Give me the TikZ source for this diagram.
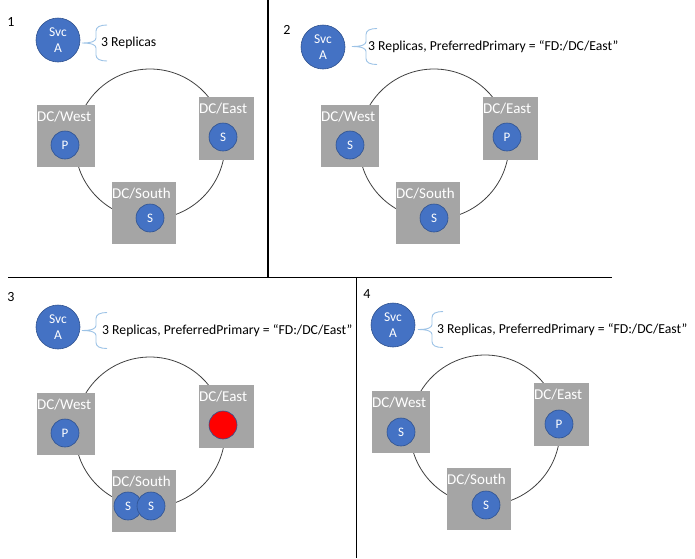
\documentclass[tikz,border=0pt]{standalone}
\usepackage{fontspec}
\setmainfont{Carlito}
\definecolor{blu}{HTML}{4472C4}
\definecolor{bluedge}{HTML}{2F528F}
\definecolor{boxgray}{HTML}{A5A5A5}
\definecolor{bracec}{HTML}{9DC3E6}
\definecolor{ringc}{HTML}{404040}
\begin{document}
\begin{tikzpicture}[x=1pt,y=-1pt]
\tikzset{
 svc/.style={circle, fill=blu, draw=bluedge, line width=0.6pt, minimum size=44pt, inner sep=0pt, text=white, font=\fontsize{13.5}{16}\selectfont, align=center},
 rep/.style={circle, fill=blu, draw=bluedge, line width=0.6pt, minimum size=28pt, inner sep=0pt, text=white, font=\fontsize{13}{14}\selectfont},
 failed/.style={rep, fill=red},
 dcbox/.style={fill=boxgray, minimum height=62pt, inner sep=0pt, anchor=north west},
 dclab/.style={text=white, font=\fontsize{15}{17}\selectfont, inner sep=0pt, anchor=base west},
 ring/.style={circle, draw=ringc, line width=0.8pt, minimum size=150pt, inner sep=0pt},
 num/.style={font=\fontsize{14}{15}\selectfont, inner sep=0pt},
 lab/.style={font=\fontsize{13.7}{16}\selectfont, inner sep=0pt, anchor=west},
 sepline/.style={draw=black, line width=1.1pt},
 curlybr/.pic={
   \draw[bracec, line width=0.9pt] (25,-18) .. controls (18,-18) and (14,-16) .. (14,-12) -- (14,-5)
     .. controls (14,-2) and (10,0) .. (0,0)
     .. controls (10,0) and (14,2) .. (14,5) -- (14,12)
     .. controls (14,16) and (18,18) .. (25,18);
 }
}
\useasboundingbox (0,0) rectangle (695,558);

% separators
\coordinate (hA) at (8,277.5);
\coordinate (hB) at (612,277.5);
\coordinate (vA) at (268,0);
\coordinate (vB) at (268,277.5);
\coordinate (vC) at (356.5,277.5);
\coordinate (vD) at (356.5,558);
\draw[sepline] (hA) -- (hB);
\draw[sepline] (vA) -- (vB);
\draw[sepline] (vC) -- (vD);

% ---------- panel 1 ----------
\node[num] (n1) at (11,22) {1};
\node[svc] (svc1) at (58,40) {Svc\\A};
\pic at (82,43) {curlybr};
\node[lab] (t1) at (101,43) {3 Replicas};
\node[ring] (ring1) at (150,144) {};
\node[dcbox, minimum width=58pt] (w1) at (37,105) {};
\node[dcbox, minimum width=55pt, minimum height=63pt] (e1) at (199,97) {};
\node[dcbox, minimum width=64pt] (s1) at (112,182) {};
\node[dclab] (wl1) at ([yshift=-16pt]w1.north west) {DC/West};
\node[dclab] (el1) at ([yshift=-16pt]e1.north west) {DC/East};
\node[dclab] (sl1) at ([yshift=-16pt]s1.north west) {DC/South};
\node[rep] (wr1) at (65,145) {P};
\node[rep] (er1) at (223,137) {S};
\node[rep] (sr1) at (150,218) {S};

% ---------- panel 2 ----------
\node[num] (n2) at (287,30) {2};
\node[svc] (svc2) at (323,47) {Svc\\A};
\pic at (352,46.5) {curlybr};
\node[lab] (t2) at (368,46.5) {3 Replicas, PreferredPrimary = “FD:/DC/East”};
\begin{scope}[shift={(284,0)}]
\node[ring] (ring2) at (150,144) {};
\node[dcbox, minimum width=58pt] (w2) at (37,105) {};
\node[dcbox, minimum width=55pt, minimum height=63pt] (e2) at (199,97) {};
\node[dcbox, minimum width=64pt] (s2) at (112,182) {};
\node[dclab] (wl2) at ([yshift=-16pt]w2.north west) {DC/West};
\node[dclab] (el2) at ([yshift=-16pt]e2.north west) {DC/East};
\node[dclab] (sl2) at ([yshift=-16pt]s2.north west) {DC/South};
\node[rep] (wr2) at (66,145) {S};
\node[rep] (er2) at (223,137) {P};
\node[rep] (sr2) at (150,218) {S};
\end{scope}

% ---------- panel 3 ----------
\node[num] (n3) at (11,297) {3};
\node[svc] (svc3) at (58,327) {Svc\\A};
\pic at (82,330.5) {curlybr};
\node[lab] (t3) at (102,330.5) {3 Replicas, PreferredPrimary = “FD:/DC/East”};
\begin{scope}[shift={(0,288)}]
\node[ring] (ring3) at (150,144) {};
\node[dcbox, minimum width=58pt] (w3) at (37,105) {};
\node[dcbox, minimum width=55pt, minimum height=63pt] (e3) at (199,97) {};
\node[dcbox, minimum width=64pt] (s3) at (112,182) {};
\node[dclab] (wl3) at ([yshift=-16pt]w3.north west) {DC/West};
\node[dclab] (el3) at ([yshift=-16pt]e3.north west) {DC/East};
\node[dclab] (sl3) at ([yshift=-16pt]s3.north west) {DC/South};
\node[rep] (wr3) at (65,145) {P};
\node[failed] (er3) at (223,137) {};
\node[rep] (sr3a) at (128,218) {S};
\node[rep] (sr3b) at (151,218) {S};
\end{scope}

% ---------- panel 4 ----------
\node[num] (n4) at (367,294) {4};
\node[svc] (svc4) at (393,325) {Svc\\A};
\pic at (418,329.5) {curlybr};
\node[lab] (t4) at (437,329.5) {3 Replicas, PreferredPrimary = “FD:/DC/East”};
\begin{scope}[shift={(335,286)}]
\node[ring] (ring4) at (150,144) {};
\node[dcbox, minimum width=58pt] (w4) at (37,105) {};
\node[dcbox, minimum width=55pt, minimum height=63pt] (e4) at (199,97) {};
\node[dcbox, minimum width=64pt] (s4) at (112,182) {};
\node[dclab] (wl4) at ([yshift=-16pt]w4.north west) {DC/West};
\node[dclab] (el4) at ([yshift=-16pt]e4.north west) {DC/East};
\node[dclab] (sl4) at ([yshift=-16pt]s4.north west) {DC/South};
\node[rep] (wr4) at (66,146) {S};
\node[rep] (er4) at (224,138) {P};
\node[rep] (sr4) at (151,219) {S};
\end{scope}
\end{tikzpicture}
\end{document}
